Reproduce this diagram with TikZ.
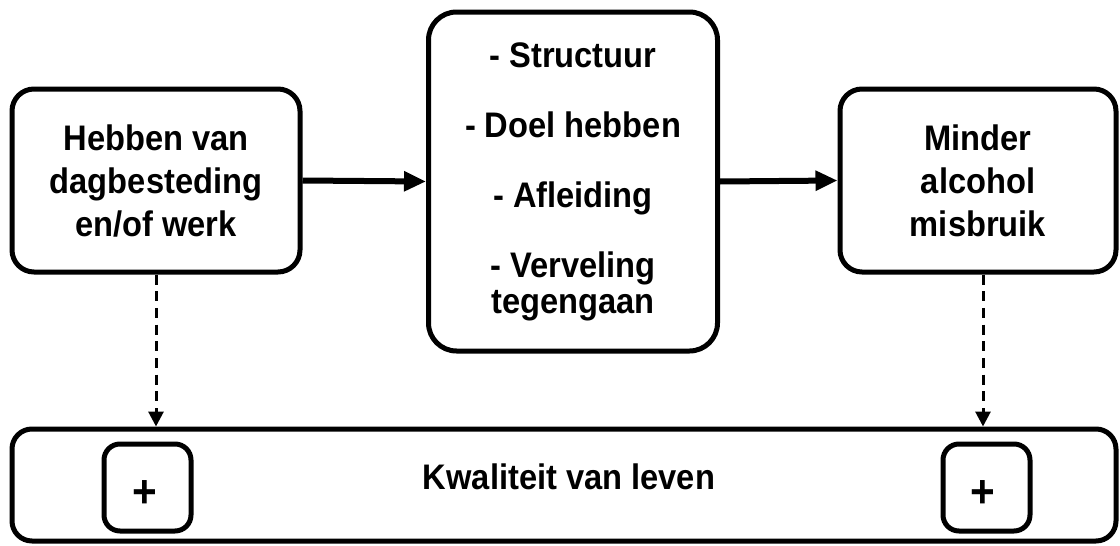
\documentclass[tikz,border=0pt]{standalone}
\usepackage{fontspec}
\newfontfamily\labfont{Liberation Sans}[FakeStretch=0.92]
\usetikzlibrary{arrows.meta}
\begin{document}
\begin{tikzpicture}[x=1pt,y=-1pt,
  box/.style={draw=black, line width=5pt, rounded corners=22pt, fill=white,
    inner sep=0pt, align=center,
    font=\labfont\bfseries\fontsize{35.5}{43}\selectfont},
  plusbox/.style={draw=black, line width=5pt, rounded corners=16pt,
    minimum width=87pt, minimum height=87pt, inner sep=0pt},
  lab/.style={font=\labfont\bfseries\fontsize{35.5}{43}\selectfont, inner sep=0pt},
  plussign/.style={font=\labfont\bfseries\fontsize{46}{50}\selectfont, inner sep=0pt},
  flow/.style={line width=6pt, -{Triangle[length=22pt,width=19pt]}},
  link/.style={line width=3pt, dash pattern=on 10pt off 6.7pt,
    -{Triangle[length=15pt,width=15pt]}}]
\useasboundingbox (0,0) rectangle (1120,546);

% upper row
\node[box, minimum width=288pt, minimum height=183pt] (werk) at (156,180.5)
  {Hebben van\\dagbesteding\\en/of werk};
\node[box, rounded corners=28pt, minimum width=289pt, minimum height=339pt,
  font=\labfont\bfseries\fontsize{35.5}{36}\selectfont] (effect) at (573,181.5)
  {- Structuur\\[34pt]- Doel hebben\\[34pt]- Afleiding\\[34pt]- Verveling\\tegengaan};
\node[box, minimum width=276pt, minimum height=183pt] (alcohol) at (978,180.5)
  {Minder\\alcohol\\misbruik};

% quality of life bar
\node[box, rounded corners=20pt, minimum width=1104pt, minimum height=112pt] (leven) at (564,485) {};
\node[lab, anchor=base] (levtxt) at (569,489) {Kwaliteit van leven};
\node[plusbox] (pl) at (147.5,487.5) {};
\node[plussign] (plt) at (145,494) {+};
\node[plusbox] (pr) at (986.5,487.5) {};
\node[plussign] (prt) at (983,494) {+};

% connectors
\draw[flow] (werk.east) -- (effect.west);
\draw[flow] (effect.east) -- (alcohol.west);
\draw[link] (werk.south) -- (werk.south |- leven.north);
\coordinate (rs) at ([xshift=5pt]alcohol.south);
\draw[link] (rs) -- (rs |- leven.north);
\end{tikzpicture}
\end{document}
